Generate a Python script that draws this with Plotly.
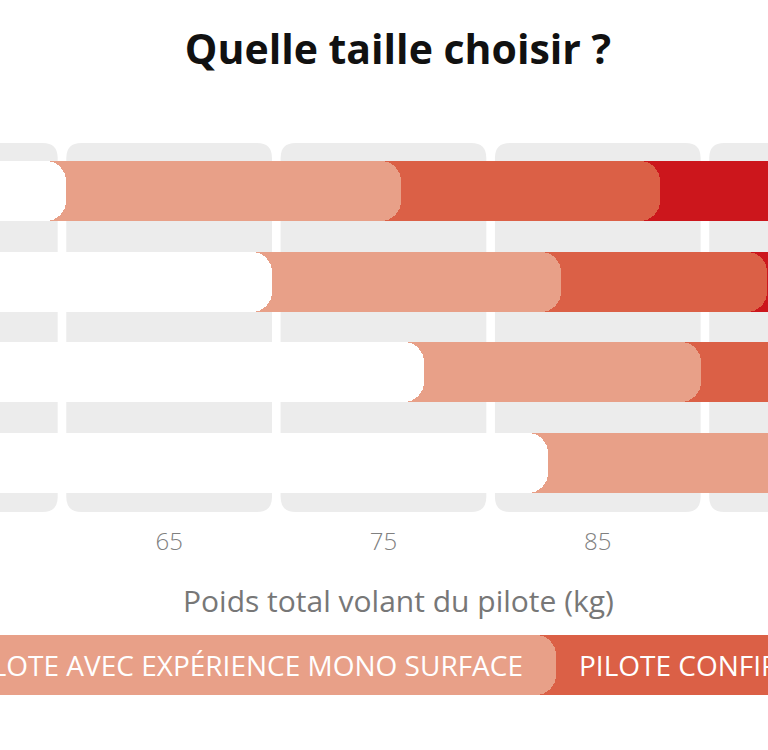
import plotly.graph_objects as go

# ---------------- data ----------------
sizes = ["XS", "S", "M", "L"]                 # wing sizes (labels are off-screen on the left)
white_end = [60.2, 69.8, 76.9, 82.7]          # below the usable weight range
salmon_end = [75.8, 83.3, 89.8, 96.0]         # pilote avec expérience mono surface
dark_end = [87.9, 92.9, 100.0, 105.0]         # pilote confirmé
red_end = [100.0, 105.0, 110.0, 115.0]        # pilote expert

tick_vals = [55, 65, 75, 85, 95]
tick_text = ["55", "65", "75", "85", "95"]

legend_labels = ["PILOTE AVEC EXPÉRIENCE MONO SURFACE", "PILOTE CONFIRMÉ", "PILOTE EXPERT"]
legend_ends = [83.05, 100.0, 115.0]

title_text = "Quelle taille choisir ?"
x_title = "Poids total volant du pilote (kg)"

# ---------------- styles ----------------
WHITE = "#FFFFFF"
SALMON = "#E8A088"
DARK = "#DB6046"
RED = "#CC161C"
GRAY = "#ECECEC"
FONT = "Open Sans"

W, H = 768, 750
M_T, M_B = 143, 40
plot_h = H - M_T - M_B
main_bottom_px = 512
x_range = [57.107, 92.944]
px_per_kg = W / (x_range[1] - x_range[0])

fig = go.Figure()

# bars: drawn longest first so shorter ones overlap with rounded ends
for ends, col in [(red_end, RED), (dark_end, DARK), (salmon_end, SALMON), (white_end, WHITE)]:
    fig.add_trace(go.Bar(
        y=sizes, x=ends, base=0, orientation="h", marker=dict(color=col, line=dict(width=0)),
        width=0.662, xaxis="x", yaxis="y", hoverinfo="skip", showlegend=False,
    ))

# legend bar
leg_cols = [SALMON, DARK, RED]
for i in reversed(range(len(legend_labels))):
    fig.add_trace(go.Bar(
        y=["legend"], x=[legend_ends[i]], base=0, orientation="h",
        marker=dict(color=leg_cols[i], line=dict(width=0)), width=1,
        xaxis="x", yaxis="y2", hoverinfo="skip", showlegend=False,
    ))

annotations = [
    dict(text=legend_labels[0], x=legend_ends[0], xref="x", y="legend", yref="y2",
         xanchor="right", yanchor="middle", xshift=-31, showarrow=False,
         font=dict(family=FONT, size=28, color="white")),
    dict(text=legend_labels[1], x=legend_ends[0], xref="x", y="legend", yref="y2",
         xanchor="left", yanchor="middle", xshift=21, showarrow=False,
         font=dict(family=FONT, size=28, color="white")),
    dict(text=x_title, x=398.5 / W, xref="paper", y=(H - M_B - 600) / plot_h, yref="paper",
         xanchor="center", yanchor="middle", showarrow=False,
         font=dict(family=FONT, size=30, color="#777777")),
]

# gray rounded columns, one per 10 kg bin centred on each tick
gap = 4.3 / px_per_kg
rx = 15 / px_per_kg
y_top = 1.0
y_bot = (H - M_B - main_bottom_px) / plot_h
ry = 15 / plot_h
shapes = []
for c in tick_vals:
    x0, x1 = c - 5 + gap, c + 5 - gap
    path = (f"M {x0+rx},{y_top} L {x1-rx},{y_top} Q {x1},{y_top} {x1},{y_top-ry} "
            f"L {x1},{y_bot+ry} Q {x1},{y_bot} {x1-rx},{y_bot} "
            f"L {x0+rx},{y_bot} Q {x0},{y_bot} {x0},{y_bot+ry} "
            f"L {x0},{y_top-ry} Q {x0},{y_top} {x0+rx},{y_top} Z")
    shapes.append(dict(type="path", path=path, xref="x", yref="paper",
                       fillcolor=GRAY, line=dict(width=0), layer="below"))

main_dom_bottom = y_bot
fig.update_layout(
    width=W, height=H,
    margin=dict(l=0, r=0, t=M_T, b=M_B, pad=0),
    paper_bgcolor="white", plot_bgcolor="rgba(0,0,0,0)",
    barmode="overlay", barcornerradius=20, bargap=0,
    title=dict(text=f"<b>{title_text}</b>", x=398 / W, xanchor="center",
               y=1 - 50 / H, yanchor="middle", yref="container",
               font=dict(family=FONT, size=41, color="#111111")),
    xaxis=dict(range=x_range, tickvals=tick_vals, ticktext=tick_text, showgrid=False,
               zeroline=False, showline=False, ticks="", anchor="y",
               ticklabelstandoff=13,
               tickfont=dict(family=FONT, size=24, color="#808080", weight=300)),
    yaxis=dict(domain=[main_dom_bottom, 1], range=[3.540, -0.5295], showticklabels=False,
               showgrid=False, zeroline=False, showline=False, type="category"),
    yaxis2=dict(domain=[(H - M_B - 695) / plot_h, (H - M_B - 635) / plot_h],
                range=[-0.5, 0.5], showticklabels=False, showgrid=False, zeroline=False,
                showline=False, anchor="x", type="category"),
    shapes=shapes,
    annotations=annotations,
)

fig.write_html("out.html", config={"displayModeBar": False},
               post_script="document.body.style.margin='0';document.body.style.overflow='hidden';")
